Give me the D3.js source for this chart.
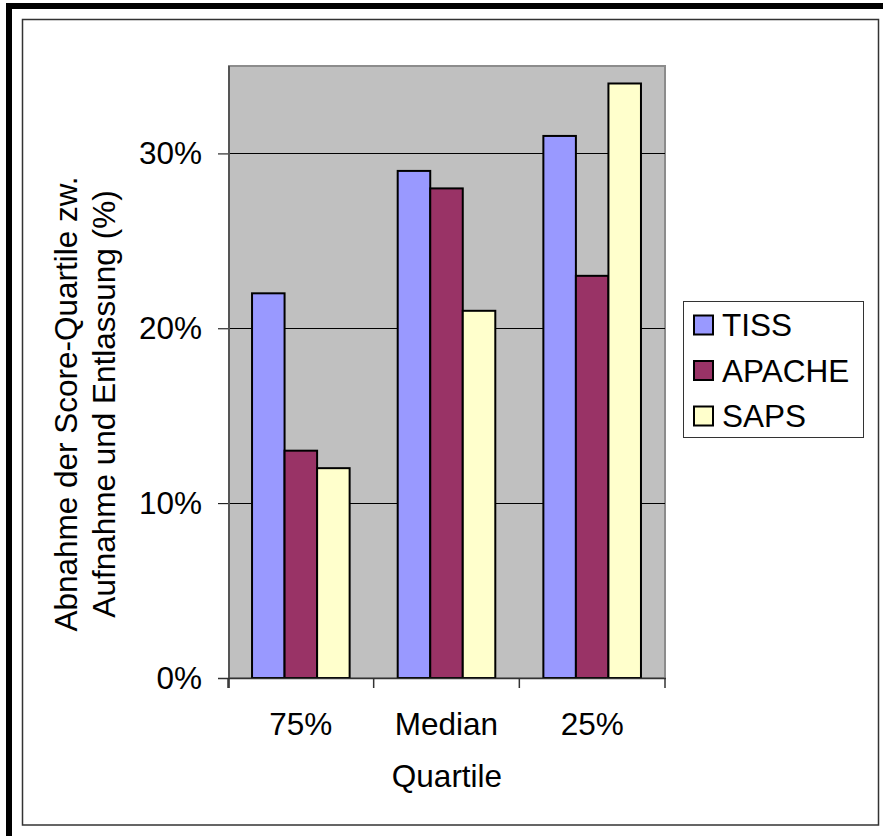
<!DOCTYPE html>
<html>
<head>
<meta charset="utf-8">
<script src="https://cdn.jsdelivr.net/npm/d3@7"></script>
<style>
  html, body { margin: 0; padding: 0; background: #fff; }
  svg { display: block; font-family: "Liberation Sans", Arial, Helvetica, sans-serif; }
</style>
</head>
<body>
<svg id="chart" width="883" height="836"></svg>
<script>
const categories = ["75%", "Median", "25%"];
const seriesNames = ["TISS", "APACHE", "SAPS"];
const tissValues = [22, 29, 31];
const apacheValues = [13, 28, 23];
const sapsValues = [12, 21, 34];
const yTicks = [0, 10, 20, 30];
const seriesColors = ["#9999FF", "#993366", "#FFFFCC"];
const yTitleLines = ["Abnahme der Score-Quartile zw.", "Aufnahme und Entlassung (%)"];
const xTitle = "Quartile";

(function () {
const seriesValues = [tissValues, apacheValues, sapsValues];

const svg = d3.select("#chart");
const FS = 31.5;

// outer decorations
svg.append("rect").attr("x", 0).attr("y", 0).attr("width", 883).attr("height", 836).attr("fill", "#fff");
svg.append("rect").attr("x", 6).attr("y", 3).attr("width", 877).attr("height", 6).attr("fill", "#000");
svg.append("rect").attr("x", 6).attr("y", 3).attr("width", 6).attr("height", 833).attr("fill", "#000");
svg.append("rect").attr("x", 22.5).attr("y", 19.5).attr("width", 856).attr("height", 805.5)
  .attr("fill", "none").attr("stroke", "#333").attr("stroke-width", 1.5);

// plot area
const pL = 229, pR = 665, pT = 66, pB = 678;
const y = d3.scaleLinear().domain([0, 35]).range([pB, pT]);
const x = d3.scaleBand().domain(categories).range([228, 665]).paddingInner(0.33).paddingOuter(0.165);
const xs = d3.scaleBand().domain(seriesNames).range([0, x.bandwidth()]).padding(0);

svg.append("rect").attr("x", pL).attr("y", pT).attr("width", pR - pL).attr("height", pB - pT)
  .attr("fill", "#C0C0C0").attr("stroke", "#8c8c8c").attr("stroke-width", 2);

// gridlines
svg.append("g").selectAll("line").data(yTicks.filter(d => d > 0)).join("line")
  .attr("x1", pL).attr("x2", pR)
  .attr("y1", d => Math.round(y(d)) + 0.5).attr("y2", d => Math.round(y(d)) + 0.5)
  .attr("stroke", "#000").attr("stroke-width", 1);

// bars
const rows = [];
categories.forEach((c, i) => seriesNames.forEach((s, j) => rows.push({ c, s, j, v: seriesValues[j][i] })));
svg.append("g").selectAll("rect").data(rows).join("rect")
  .attr("x", d => x(d.c) + xs(d.s))
  .attr("y", d => y(d.v))
  .attr("width", xs.bandwidth())
  .attr("height", d => y(0) - y(d.v))
  .attr("fill", d => seriesColors[d.j])
  .attr("stroke", "#000").attr("stroke-width", 2);

// y axis
const yAxis = svg.append("g").attr("transform", `translate(${pL},0)`)
  .call(d3.axisLeft(y).tickValues(yTicks).tickFormat(d => d + "%").tickSize(11).tickPadding(16));
yAxis.select(".domain").remove();
yAxis.selectAll(".tick line").attr("stroke", "#000").attr("stroke-width", 1);
yAxis.selectAll(".tick text").attr("font-size", FS).attr("fill", "#000")
  .attr("font-family", "'Liberation Sans', Arial, sans-serif");
svg.append("line").attr("x1", pL).attr("x2", pL).attr("y1", pT).attr("y2", 688)
  .attr("stroke", "#555").attr("stroke-width", 2);

// x axis
svg.append("line").attr("x1", 218).attr("x2", pR + 1).attr("y1", pB + 0.5).attr("y2", pB + 0.5)
  .attr("stroke", "#333").attr("stroke-width", 1.5);
const bounds = d3.range(categories.length + 1).map(i => x.range()[0] + i * x.step());
svg.append("g").selectAll("line").data(bounds).join("line")
  .attr("x1", d => d).attr("x2", d => d).attr("y1", pB).attr("y2", pB + 10)
  .attr("stroke", "#333").attr("stroke-width", 1.5);
svg.append("g").selectAll("text").data(categories).join("text")
  .attr("x", d => x(d) + x.bandwidth() / 2).attr("y", 735)
  .attr("text-anchor", "middle").attr("font-size", FS).attr("fill", "#000")
  .text(d => d);

// axis titles
svg.append("text").attr("x", (pL + pR) / 2).attr("y", 787)
  .attr("text-anchor", "middle").attr("font-size", FS).attr("fill", "#000").text(xTitle);
const yt = svg.append("text").attr("transform", "translate(0,404) rotate(-90)")
  .attr("text-anchor", "middle").attr("font-size", FS).attr("fill", "#000");
yTitleLines.forEach((t, i) => yt.append("tspan").attr("x", 0).attr("y", 77 + i * 38).text(t));

// legend
svg.append("rect").attr("x", 683.5).attr("y", 301.5).attr("width", 180).attr("height", 136)
  .attr("fill", "#fff").attr("stroke", "#333").attr("stroke-width", 1);
const leg = svg.append("g").selectAll("g").data(seriesNames).join("g")
  .attr("transform", (d, i) => `translate(0,${325 + i * 45.5})`);
leg.append("rect").attr("x", 694).attr("y", -9.5).attr("width", 19).attr("height", 19)
  .attr("fill", (d, i) => seriesColors[i]).attr("stroke", "#000").attr("stroke-width", 2);
leg.append("text").attr("x", 722).attr("y", 11).attr("font-size", FS).attr("fill", "#000").text(d => d);
})();
</script>
</body>
</html>
